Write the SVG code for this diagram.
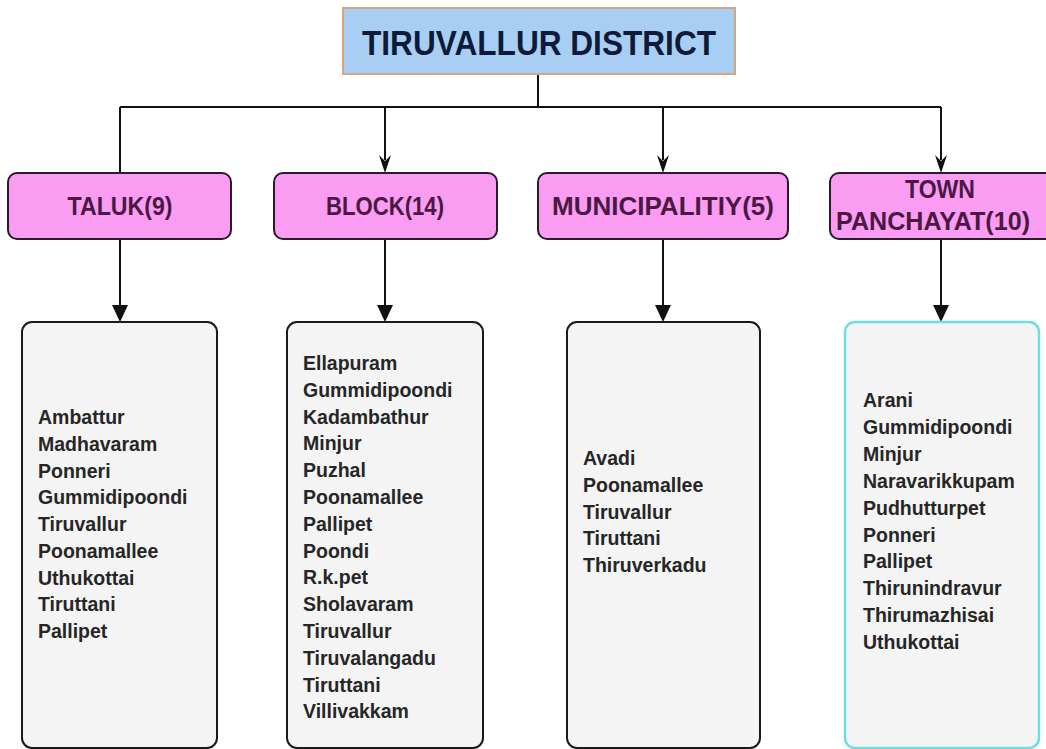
<svg xmlns="http://www.w3.org/2000/svg" width="1046" height="749" viewBox="0 0 1046 749">
<defs>
<style>
.title{font-family:"Liberation Sans",Arial,sans-serif;font-weight:bold;font-size:35px;fill:#0e1a38;text-anchor:middle}
.cat{fill:#f99cf2;stroke:#2a1a2a;stroke-width:2}
.catt{font-family:"Liberation Sans",Arial,sans-serif;font-weight:bold;font-size:25px;fill:#4a1842;text-anchor:middle}
.list{fill:#f4f4f4;stroke:#1a1a1a;stroke-width:2}
.listc{fill:#f4f4f4;stroke:#6fdede;stroke-width:2.5}
.item{font-family:"Liberation Sans",Arial,sans-serif;font-weight:bold;font-size:19.5px;fill:#262626}
.conn{fill:none;stroke:#111;stroke-width:2}
.head{fill:#111}
</style>
</defs>
<rect width="1046" height="749" fill="#ffffff"/>

<g id="connectors">
<path class="conn" d="M538,74 V107"/>
<path class="conn" d="M120,107 H941"/>
<path class="conn" d="M120,107 V173"/>
<path class="conn" d="M385,107 V160"/>
<path class="conn" d="M663,107 V160"/>
<path class="conn" d="M941,107 V160"/>
<path class="head" d="M379,155 L385,161 L391,155 L385,173 Z"/>
<path class="head" d="M657,155 L663,161 L669,155 L663,173 Z"/>
<path class="head" d="M935,155 L941,161 L947,155 L941,173 Z"/>
<path class="conn" d="M120,239 V306"/>
<path class="conn" d="M385,239 V306"/>
<path class="conn" d="M663,239 V306"/>
<path class="conn" d="M941,239 V306"/>
<path class="head" d="M112,305 L128,305 L120,322 Z"/>
<path class="head" d="M377,305 L393,305 L385,322 Z"/>
<path class="head" d="M655,305 L671,305 L663,322 Z"/>
<path class="head" d="M933,305 L949,305 L941,322 Z"/>
</g>

<g id="district">
<rect x="343" y="8" width="392" height="66" fill="#a8cff3" stroke="#d2a884" stroke-width="2"/>
<text class="title" x="539" y="55" textLength="354" lengthAdjust="spacingAndGlyphs">TIRUVALLUR DISTRICT</text>
</g>

<g id="taluk">
<rect class="cat" x="8" y="173" width="223" height="66" rx="9"/>
<text class="catt" x="120" y="215" textLength="105" lengthAdjust="spacingAndGlyphs">TALUK(9)</text>
</g>
<g id="block">
<rect class="cat" x="274" y="173" width="223" height="66" rx="9"/>
<text class="catt" x="385" y="215" textLength="118" lengthAdjust="spacingAndGlyphs">BLOCK(14)</text>
</g>
<g id="municipality">
<rect class="cat" x="538" y="173" width="250" height="66" rx="9"/>
<text class="catt" x="663" y="215" textLength="222" lengthAdjust="spacingAndGlyphs">MUNICIPALITIY(5)</text>
</g>
<g id="townpanchayat">
<rect class="cat" x="830" y="173" width="226" height="66" rx="9"/>
<text class="catt" x="940" y="198" textLength="70" lengthAdjust="spacingAndGlyphs">TOWN</text>
<text class="catt" x="933" y="230" textLength="194" lengthAdjust="spacingAndGlyphs">PANCHAYAT(10)</text>
</g>

<g id="taluk-list">
<rect class="list" x="22" y="322" width="195" height="426" rx="10"/>
<text class="item" x="38" y="424">Ambattur</text>
<text class="item" x="38" y="450.75">Madhavaram</text>
<text class="item" x="38" y="477.5">Ponneri</text>
<text class="item" x="38" y="504.25">Gummidipoondi</text>
<text class="item" x="38" y="531">Tiruvallur</text>
<text class="item" x="38" y="557.75">Poonamallee</text>
<text class="item" x="38" y="584.5">Uthukottai</text>
<text class="item" x="38" y="611.25">Tiruttani</text>
<text class="item" x="38" y="638">Pallipet</text>
</g>

<g id="block-list">
<rect class="list" x="287" y="322" width="196" height="426" rx="10"/>
<text class="item" x="303" y="370">Ellapuram</text>
<text class="item" x="303" y="396.8">Gummidipoondi</text>
<text class="item" x="303" y="423.6">Kadambathur</text>
<text class="item" x="303" y="450.4">Minjur</text>
<text class="item" x="303" y="477.2">Puzhal</text>
<text class="item" x="303" y="504">Poonamallee</text>
<text class="item" x="303" y="530.8">Pallipet</text>
<text class="item" x="303" y="557.6">Poondi</text>
<text class="item" x="303" y="584.4">R.k.pet</text>
<text class="item" x="303" y="611.2">Sholavaram</text>
<text class="item" x="303" y="638">Tiruvallur</text>
<text class="item" x="303" y="664.8">Tiruvalangadu</text>
<text class="item" x="303" y="691.6">Tiruttani</text>
<text class="item" x="303" y="718.4">Villivakkam</text>
</g>

<g id="municipality-list">
<rect class="list" x="567" y="322" width="193" height="426" rx="10"/>
<text class="item" x="583" y="465">Avadi</text>
<text class="item" x="583" y="491.75">Poonamallee</text>
<text class="item" x="583" y="518.5">Tiruvallur</text>
<text class="item" x="583" y="545.25">Tiruttani</text>
<text class="item" x="583" y="572">Thiruverkadu</text>
</g>

<g id="townpanchayat-list">
<rect class="listc" x="845" y="322" width="194" height="426" rx="10"/>
<text class="item" x="863" y="407">Arani</text>
<text class="item" x="863" y="433.9">Gummidipoondi</text>
<text class="item" x="863" y="460.8">Minjur</text>
<text class="item" x="863" y="487.7">Naravarikkupam</text>
<text class="item" x="863" y="514.6">Pudhutturpet</text>
<text class="item" x="863" y="541.5">Ponneri</text>
<text class="item" x="863" y="568.4">Pallipet</text>
<text class="item" x="863" y="595.3">Thirunindravur</text>
<text class="item" x="863" y="622.2">Thirumazhisai</text>
<text class="item" x="863" y="649">Uthukottai</text>
</g>
</svg>
